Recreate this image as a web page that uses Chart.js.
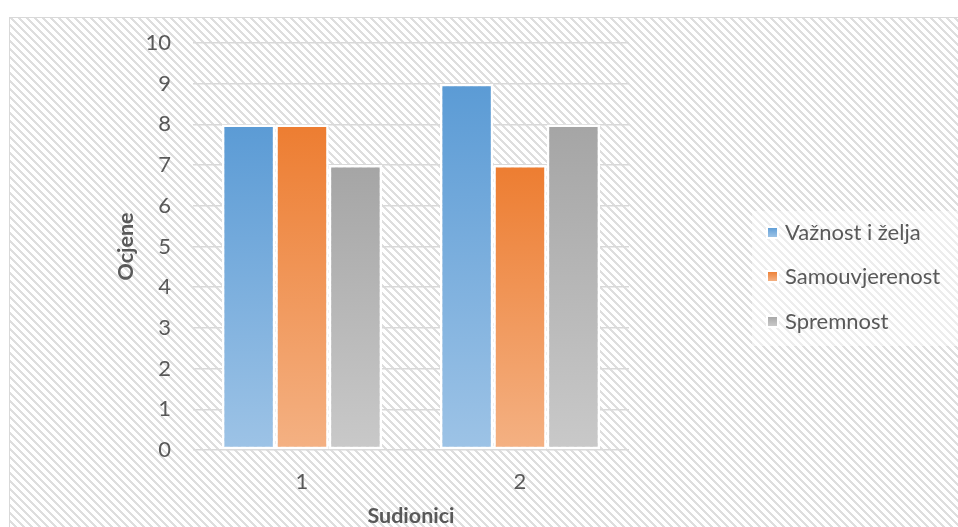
<!DOCTYPE html>
<html><head><meta charset="utf-8">
<script src="https://cdn.jsdelivr.net/npm/chart.js@4/dist/chart.umd.min.js"></script>
<style>html,body{margin:0;padding:0;background:#fff;overflow:hidden}canvas{display:block}</style>
</head><body>
<canvas id="c" width="958" height="527"></canvas>
<script>
// ---- data ----
const categories = ['1', '2'];
const seriesNames = ['Važnost i želja', 'Samouvjerenost', 'Spremnost'];
const vaznostIZelja = [8, 9];
const samouvjerenost = [8, 7];
const spremnost = [7, 8];
const yTickValues = [0, 1, 2, 3, 4, 5, 6, 7, 8, 9, 10];
const xAxisTitle = 'Sudionici';
const yAxisTitle = 'Ocjene';

// ---- styles ----
const FONT = 'Lato';
const TEXT = '#595959';
const colors = [
  ['#5b9bd5', '#9dc3e6'],
  ['#ed7d31', '#f4b183'],
  ['#a5a5a5', '#c9c9c9']
];

function barGradient(top, bottom) {
  return (ctx) => {
    const chart = ctx.chart;
    const y = chart.scales && chart.scales.y;
    if (!y || ctx.type !== 'data') return top;
    const y0 = y.getPixelForValue(ctx.raw);
    const y1 = y.getPixelForValue(0);
    if (!isFinite(y0) || !isFinite(y1) || y0 === y1) return top;
    const g = chart.ctx.createLinearGradient(0, y0, 0, y1);
    g.addColorStop(0, top);
    g.addColorStop(1, bottom);
    return g;
  };
}

function makeHatch() {
  const t = document.createElement('canvas');
  t.width = 8; t.height = 8;
  const c = t.getContext('2d');
  c.fillStyle = '#ffffff';
  c.fillRect(0, 0, 8, 8);
  c.fillStyle = '#dedede';
  for (let y = 0; y < 8; y++) {
    for (let x = 0; x < 8; x++) {
      const d = ((x - y) % 8 + 8) % 8;
      if (d < 3) c.fillRect(x, y, 1, 1);
    }
  }
  return t;
}

const background = {
  id: 'background',
  beforeDraw(chart) {
    const c = chart.ctx;
    c.save();
    c.fillStyle = '#ffffff';
    c.fillRect(0, 0, chart.width, chart.height);
    c.fillStyle = c.createPattern(makeHatch(), 'repeat');
    c.fillRect(9, 17, chart.width, chart.height);
    c.strokeStyle = '#d9d9d9';
    c.lineWidth = 1;
    c.strokeRect(9.5, 17.5, chart.width + 10, chart.height + 10);
    // lighter legend backing
    c.fillStyle = 'rgba(255,255,255,0.45)';
    c.fillRect(752, 211, 206, 135);
    c.restore();
  }
};

const titlesAndLegend = {
  id: 'titlesAndLegend',
  afterDraw(chart) {
    const c = chart.ctx;
    const a = chart.chartArea;
    c.save();
    c.fillStyle = TEXT;
    c.font = 'bold 21.5px ' + FONT;
    c.textAlign = 'center';
    c.textBaseline = 'middle';
    c.fillText(xAxisTitle, (a.left + a.right) / 2, 516);
    c.save();
    c.translate(126, (a.top + a.bottom) / 2);
    c.rotate(-Math.PI / 2);
    c.fillText(yAxisTitle, 0, 0);
    c.restore();
    // legend
    c.font = '22px ' + FONT;
    c.textAlign = 'left';
    const ys = [232, 276, 321];
    chart.data.datasets.forEach((ds, i) => {
      const y = ys[i];
      c.fillStyle = '#ffffff';
      c.fillRect(766, y - 6, 13, 13);
      const g = c.createLinearGradient(0, y - 5, 0, y + 5);
      g.addColorStop(0, colors[i][0]);
      g.addColorStop(1, colors[i][1]);
      c.fillStyle = g;
      c.fillRect(768, y - 4, 9, 9);
      c.fillStyle = TEXT;
      c.fillText(ds.label, 785, y + 1);
    });
    c.restore();
  }
};

const seriesValues = [vaznostIZelja, samouvjerenost, spremnost];

new Chart(document.getElementById('c'), {
  type: 'bar',
  data: {
    labels: categories,
    datasets: seriesNames.map((name, i) => ({
      label: name,
      data: seriesValues[i],
      backgroundColor: barGradient(colors[i][0], colors[i][1]),
      borderColor: '#ffffff',
      borderWidth: 2.5,
      borderSkipped: false,
      categoryPercentage: 0.735,
      barPercentage: 1.0
    }))
  },
  options: {
    responsive: false,
    animation: false,
    devicePixelRatio: 1,
    layout: { padding: { top: 43, right: 329, left: 0, bottom: 0 } },
    plugins: { legend: { display: false }, tooltip: { enabled: false } },
    scales: {
      x: {
        grid: { display: false, drawTicks: false },
        border: { display: false },
        ticks: { color: TEXT, font: { family: FONT, size: 22 }, padding: 19 },
        afterFit(s) { s.height = 77; }
      },
      y: {
        min: 0, max: 10,
        afterBuildTicks(s) { s.ticks = yTickValues.map(v => ({ value: v })); },
        grid: { color: '#d9d9d9', lineWidth: 1.5, drawTicks: false },
        border: { display: false },
        ticks: { color: TEXT, font: { family: FONT, size: 22 }, padding: 22 },
        afterFit(s) { s.width = 193; }
      }
    }
  },
  plugins: [background, titlesAndLegend]
});
</script>
</body></html>
